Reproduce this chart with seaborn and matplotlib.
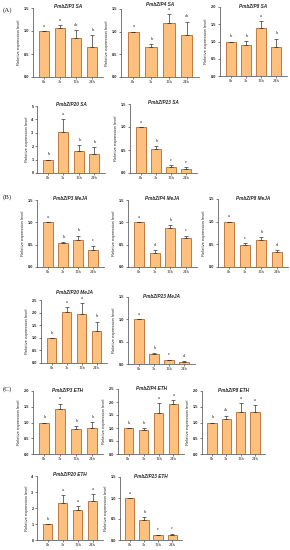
import numpy as np
import pandas as pd
import matplotlib
matplotlib.use("Agg")
import matplotlib.pyplot as plt
import seaborn as sns
from matplotlib.transforms import blended_transform_factory, offset_copy

# Datos (media, error, letras de significancia)
times = ["0h", "3h", "12h", "24h"]
genes = ["PmbZIP3", "PmbZIP4", "PmbZIP8", "PmbZIP20", "PmbZIP23"]
treatments = ["SA", "MeJA", "ETH"]

sa_mean = [[1.0, 1.06, 0.85, 0.66], [1.0, 0.67, 1.19, 0.93], [1.0, 0.90, 1.39, 0.83],
           [1.0, 3.08, 1.65, 1.43], [1.0, 0.52, 0.13, 0.09]]
sa_err = [[0, 0.07, 0.17, 0.25], [0, 0.06, 0.20, 0.29], [0, 0.12, 0.19, 0.25],
          [0, 0.93, 0.44, 0.49], [0, 0.07, 0.04, 0.03]]
sa_sig = [["a", "a", "ab", "b"], ["a", "b", "a", "ab"], ["b", "b", "a", "b"],
          ["b", "a", "b", "b"], ["a", "b", "c", "c"]]
sa_ymax = [1.5, 1.5, 2.0, 5, 1.5]

meja_mean = [[1.0, 0.53, 0.61, 0.37], [1.0, 0.32, 0.875, 0.66], [1.0, 0.485, 0.60, 0.34],
             [1.0, 2.04, 1.93, 1.28], [1.0, 0.22, 0.09, 0.05]]
meja_err = [[0, 0.02, 0.09, 0.11], [0, 0.06, 0.055, 0.04], [0, 0.045, 0.06, 0.03],
            [0, 0.17, 0.44, 0.36], [0, 0.02, 0.01, 0.01]]
meja_sig = [["a", "b", "b", "c"], ["a", "d", "b", "c"], ["a", "c", "b", "d"],
            ["b", "a", "a", "b"], ["a", "b", "c", "d"]]
meja_ymax = [1.5, 1.5, 1.5, 2.5, 1.5]

eth_mean = [[1.0, 1.42, 0.79, 0.82], [1.0, 0.93, 1.56, 1.92], [1.0, 1.11, 1.33, 1.33],
            [1.0, 2.31, 1.88, 2.46], [1.0, 0.47, 0.11, 0.13]]
eth_err = [[0, 0.18, 0.085, 0.20], [0, 0.06, 0.41, 0.16], [0, 0.11, 0.28, 0.22],
           [0, 0.50, 0.25, 0.42], [0, 0.07, 0.02, 0.02]]
eth_sig = [["b", "a", "b", "b"], ["b", "b", "a", "a"], ["b", "ab", "a", "a"],
           ["b", "a", "a", "a"], ["a", "b", "c", "c"]]
eth_ymax = [2.0, 2.5, 2.0, 4, 1.5]

W, H = 290, 550
FILL = "#FDC07F"
EDGE = "#B8692A"

# cajas de cada panel en pixeles: (x0, x1, y_top, y_bottom)
boxes = {
    "SA": [(33, 103, 8, 77), (121, 199, 9, 77), (220, 287, 7, 76),
           (37, 105, 106, 173), (130, 197, 104, 173)],
    "MeJA": [(37, 104, 200, 267), (128, 197, 200, 267), (218, 288, 199, 267),
             (41, 107, 300, 363), (128, 195, 297, 364)],
    "ETH": [(33, 103, 391, 454), (118, 184, 389, 454), (202, 265, 391, 454),
            (37, 103, 476, 540), (120, 182, 477, 540)],
}
# cuanto sube el titulo sobre el borde superior (px)
title_lift = {"SA": [1, 4.5, 1, 1, 1], "MeJA": [1, 1, 1, 7, 1], "ETH": [1, 1, 1, 1, 1]}
row_labels = [("(A)", 10), ("(B)", 197), ("(C)", 389)]

sns.set_style("ticks")
plt.rcParams["font.family"] = ["Liberation Sans", "DejaVu Sans"]

fig = plt.figure(figsize=(W / 100, H / 100), dpi=100)

data = {
    "SA": (sa_mean, sa_err, sa_sig, sa_ymax),
    "MeJA": (meja_mean, meja_err, meja_sig, meja_ymax),
    "ETH": (eth_mean, eth_err, eth_sig, eth_ymax),
}

for trt in treatments:
    means, errs, sigs, ymaxs = data[trt]
    for g, gene in enumerate(genes):
        x0, x1, y0, y1 = boxes[trt][g]
        ax = fig.add_axes([x0 / W, 1 - y1 / H, (x1 - x0) / W, (y1 - y0) / H])
        df = pd.DataFrame({"time": times, "value": means[g]})
        sns.barplot(data=df, x="time", y="value", color=FILL, edgecolor=EDGE,
                    linewidth=0.6, width=0.65, errorbar=None, saturation=1, ax=ax)
        pos = np.arange(len(times))
        ax.errorbar(pos, means[g], yerr=[np.zeros(len(times)), errs[g]], fmt="none",
                    ecolor="#333333", elinewidth=0.5, capsize=1.5, capthick=0.5)
        for i in range(len(times)):
            ax.annotate(sigs[g][i], (pos[i], means[g][i] + errs[g][i]),
                        xytext=(0, 3.8), textcoords="offset points", ha="center",
                        va="center", fontsize=3.3, family="Liberation Serif")
        ymax = ymaxs[g]
        step = 0.5 if ymax <= 2.5 else 1
        ticks = np.arange(0, ymax + step / 2, step)
        ax.set_xlim(-0.7, 3.7)
        ax.set_ylim(0, ymax)
        ax.set_yticks(ticks)
        ax.set_yticklabels([f"{t:.1f}" if step < 1 else f"{t:.0f}" for t in ticks],
                           fontsize=2.8, fontweight="bold")
        ax.set_xticks(pos)
        ax.set_xticklabels(times, fontsize=3.2, family="Liberation Serif")
        ax.set_xlabel("")
        ax.set_ylabel("Relative expression level", fontsize=3.0, labelpad=2)
        for side in ["top", "right"]:
            ax.spines[side].set_visible(False)
        for side in ["left", "bottom"]:
            ax.spines[side].set_linewidth(0.5)
            ax.spines[side].set_color("#444444")
        ax.tick_params(length=1.5, width=0.4, pad=1, colors="#222222")
        tr = blended_transform_factory(ax.transData, ax.transAxes)
        tr = offset_copy(tr, fig=fig, y=title_lift[trt][g], units="dots")
        ax.text(1.5, 1.0, f"{gene} {trt}", transform=tr, ha="center", va="center",
                fontsize=3.4, fontweight="bold", fontstyle="italic")

for lab, y in row_labels:
    fig.text(3 / W, 1 - y / H, lab, fontsize=5, family="Liberation Serif",
             ha="left", va="center")

fig.savefig("out.png", dpi=100)
